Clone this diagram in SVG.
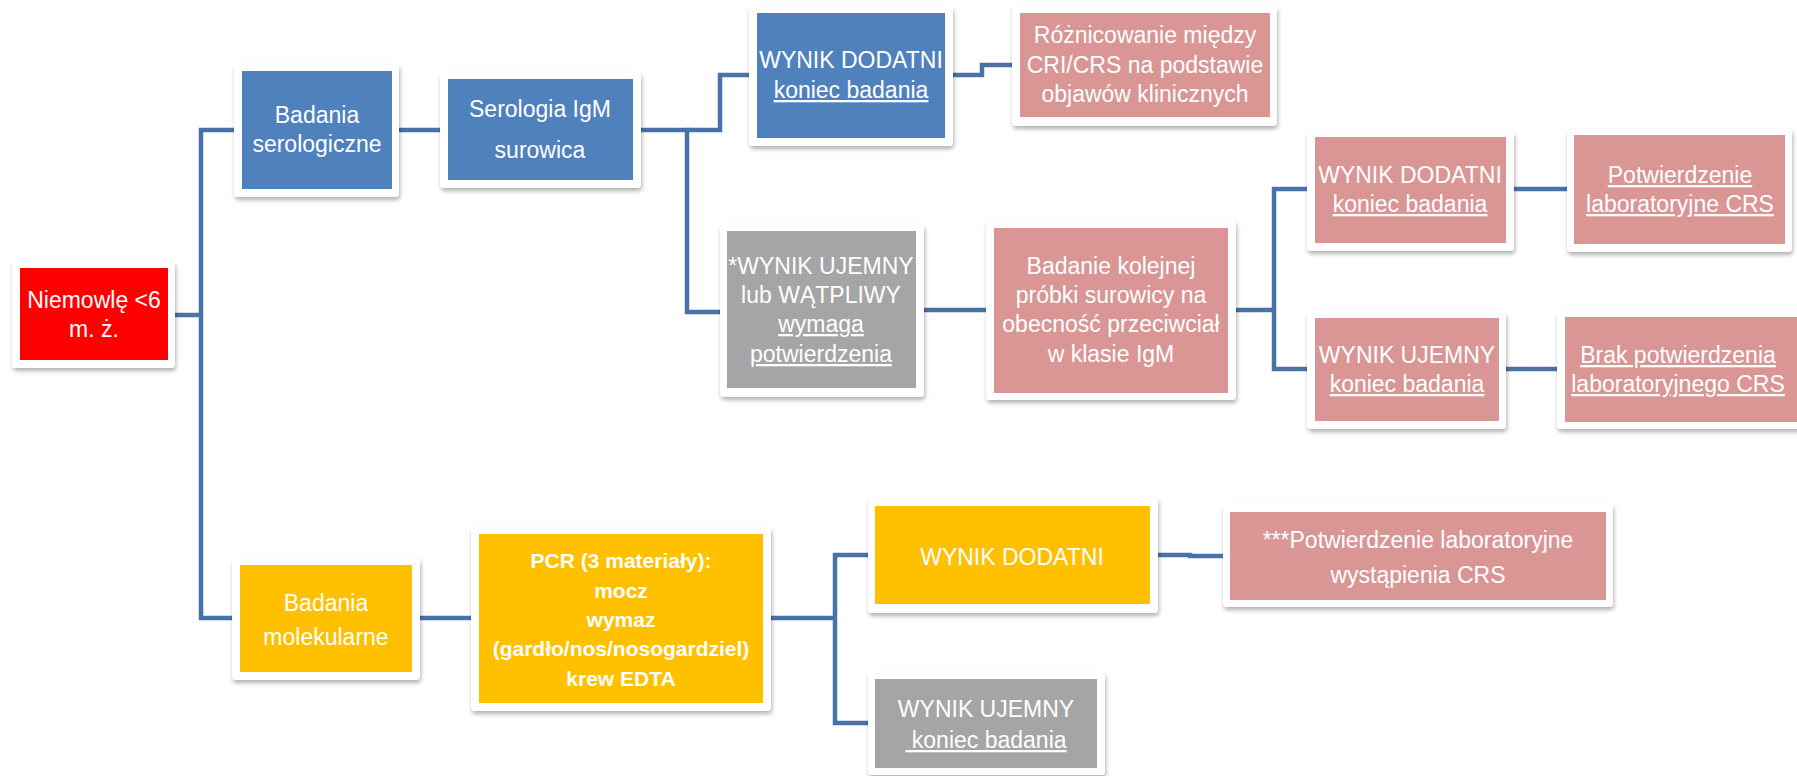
<svg xmlns="http://www.w3.org/2000/svg" width="1797" height="776" viewBox="0 0 1797 776">
<style>
.frame{fill:#fff;filter:url(#sh)}
.blue{fill:#4F81BD}
.pink{fill:#D99694}
.gray{fill:#A5A5A5}
.yel{fill:#FFC000}
.red{fill:#FF0000}
text{font-family:"Liberation Sans",Arial,sans-serif;font-size:23px;fill:#fff;text-anchor:middle}
.u{text-decoration:underline}
.b{font-weight:bold;font-size:21px}
.c{fill:none;stroke:#4872A8;stroke-width:4.5;stroke-linejoin:miter}
</style>
<defs>
<filter id="sh" x="-10%" y="-10%" width="130%" height="140%">
<feDropShadow dx="1" dy="3" stdDeviation="2" flood-color="#000" flood-opacity="0.3"/>
</filter>
</defs>
<rect width="1797" height="776" fill="#fff"/>
<g id="connectors">
<path class="c" d="M175,315 H201"/>
<path class="c" d="M234,130 H201 V618 H232"/>
<path class="c" d="M399,130 H440"/>
<path class="c" d="M641,130 H687 V312 H720"/>
<path class="c" d="M687,130 H720 V75 H749"/>
<path class="c" d="M953,75 H982 V65 H1012"/>
<path class="c" d="M924,310 H986"/>
<path class="c" d="M1236,310 H1274"/>
<path class="c" d="M1307,189 H1274 V369 H1307"/>
<path class="c" d="M1514,189 H1567"/>
<path class="c" d="M1506,369 H1557"/>
<path class="c" d="M420,618 H471"/>
<path class="c" d="M771,618 H835"/>
<path class="c" d="M868,555 H835 V723 H868"/>
<path class="c" d="M1158,555 H1190 V556 H1223"/>
</g>
<g id="n-niemowle">
<rect class="frame" x="12" y="261" width="163" height="107" rx="4"/>
<rect class="red" x="20" y="268" width="148" height="92"/>
<text x="94" y="308" font-size="24">Niemowlę &lt;6</text>
<text x="94" y="337" font-size="24">m. ż.</text>
</g>
<g id="n-serologiczne">
<rect class="frame" x="234" y="64" width="165" height="133" rx="4"/>
<rect class="blue" x="242" y="71" width="150" height="118"/>
<text x="317" y="123">Badania</text>
<text x="317" y="152">serologiczne</text>
</g>
<g id="n-serologia">
<rect class="frame" x="440" y="72" width="201" height="116" rx="4"/>
<rect class="blue" x="448" y="79" width="185" height="101"/>
<text x="540" y="117">Serologia IgM</text>
<text x="540" y="158">surowica</text>
</g>
<g id="n-dodatni1">
<rect class="frame" x="749" y="6" width="204" height="140" rx="4"/>
<rect class="blue" x="757" y="13" width="188" height="125"/>
<text x="851" y="68" font-size="22.5">WYNIK DODATNI</text>
<text x="851" y="98" class="u">koniec badania</text>
</g>
<g id="n-roznicowanie">
<rect class="frame" x="1012" y="6" width="265" height="120" rx="4"/>
<rect class="pink" x="1020" y="13" width="250" height="104"/>
<text x="1145" y="43">Różnicowanie między</text>
<text x="1145" y="73">CRI/CRS na podstawie</text>
<text x="1145" y="102">objawów klinicznych</text>
</g>
<g id="n-ujemny1">
<rect class="frame" x="720" y="224" width="204" height="173" rx="4"/>
<rect class="gray" x="727" y="231" width="189" height="157"/>
<text x="821" y="274" font-size="22.5">*WYNIK UJEMNY</text>
<text x="821" y="303" font-size="22.5">lub WĄTPLIWY</text>
<text x="821" y="332" class="u">wymaga</text>
<text x="821" y="362" class="u">potwierdzenia</text>
</g>
<g id="n-badanie">
<rect class="frame" x="986" y="220" width="250" height="180" rx="4"/>
<rect class="pink" x="994" y="228" width="234" height="165"/>
<text x="1111" y="274">Badanie kolejnej</text>
<text x="1111" y="303">próbki surowicy na</text>
<text x="1111" y="332">obecność przeciwciał</text>
<text x="1111" y="362">w klasie IgM</text>
</g>
<g id="n-dodatni2">
<rect class="frame" x="1307" y="131" width="207" height="120" rx="4"/>
<rect class="pink" x="1315" y="137" width="191" height="106"/>
<text x="1410" y="183" font-size="22.5">WYNIK DODATNI</text>
<text x="1410" y="212" class="u">koniec badania</text>
</g>
<g id="n-potwierdzenie">
<rect class="frame" x="1567" y="129" width="225" height="123" rx="4"/>
<rect class="pink" x="1574" y="135" width="211" height="109"/>
<text x="1680" y="183" class="u" font-size="22">Potwierdzenie</text>
<text x="1680" y="212" class="u" font-size="22">laboratoryjne CRS</text>
</g>
<g id="n-ujemny2">
<rect class="frame" x="1307" y="312" width="199" height="117" rx="4"/>
<rect class="pink" x="1315" y="318" width="184" height="103"/>
<text x="1407" y="363" font-size="22">WYNIK UJEMNY</text>
<text x="1407" y="392" class="u">koniec badania</text>
</g>
<g id="n-brak">
<rect class="frame" x="1557" y="311" width="250" height="118" rx="4"/>
<rect class="pink" x="1565" y="317" width="240" height="105"/>
<text x="1678" y="363" class="u" font-size="22">Brak potwierdzenia</text>
<text x="1678" y="392" class="u" font-size="22">laboratoryjnego CRS</text>
</g>
<g id="n-molekularne">
<rect class="frame" x="232" y="558" width="188" height="122" rx="4"/>
<rect class="yel" x="240" y="565" width="172" height="107"/>
<text x="326" y="611">Badania</text>
<text x="326" y="645">molekularne</text>
</g>
<g id="n-pcr">
<rect class="frame" x="471" y="527" width="300" height="184" rx="4"/>
<rect class="yel" x="479" y="534" width="284" height="169"/>
<text x="621" y="568" class="b">PCR (3 materiały):</text>
<text x="621" y="598" class="b">mocz</text>
<text x="621" y="627" class="b">wymaz</text>
<text x="621" y="656" class="b">(gardło/nos/nosogardziel)</text>
<text x="621" y="686" class="b">krew EDTA</text>
</g>
<g id="n-dodatni3">
<rect class="frame" x="868" y="498" width="290" height="115" rx="4"/>
<rect class="yel" x="875" y="506" width="275" height="98"/>
<text x="1012" y="565" font-size="23.5">WYNIK DODATNI</text>
</g>
<g id="n-potwierdzenie2">
<rect class="frame" x="1223" y="504" width="390" height="103" rx="4"/>
<rect class="pink" x="1230" y="512" width="376" height="88"/>
<text x="1418" y="548" font-size="26.5">***Potwierdzenie laboratoryjne</text>
<text x="1418" y="583" font-size="26.5">wystąpienia CRS</text>
</g>
<g id="n-ujemny3">
<rect class="frame" x="868" y="672" width="237" height="103" rx="4"/>
<rect class="gray" x="875" y="679" width="222" height="89"/>
<text x="986" y="717" font-size="22.5">WYNIK UJEMNY</text>
<text x="986" y="748" class="u" xml:space="preserve"> koniec badania</text>
</g>
</svg>
